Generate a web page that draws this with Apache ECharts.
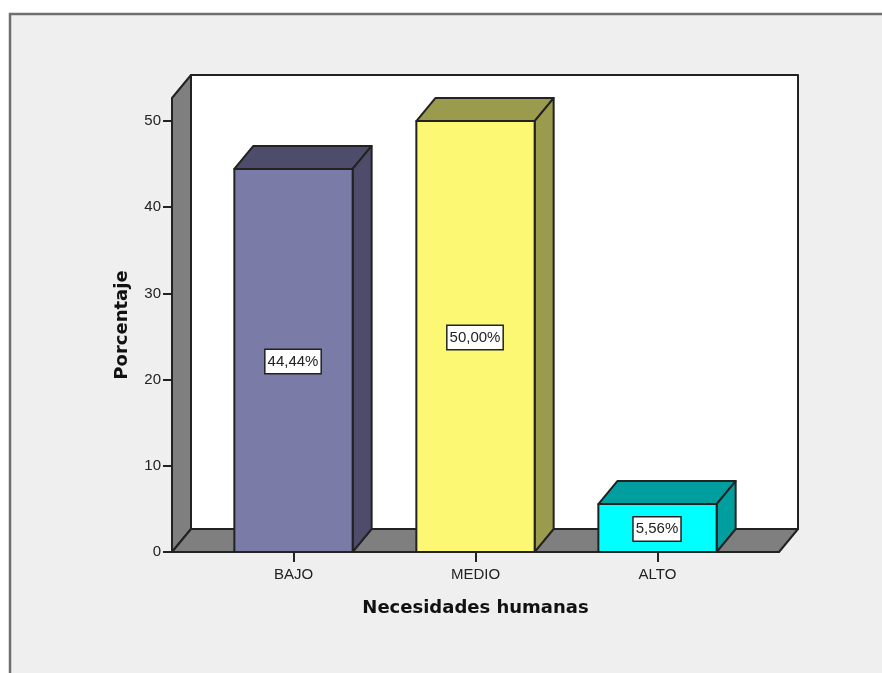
<!DOCTYPE html>
<html>
<head>
<meta charset="utf-8">
<style>html,body{margin:0;padding:0;background:#fff}#chart{width:882px;height:673px}</style>
<script src="https://cdn.jsdelivr.net/npm/echarts@6/dist/echarts.min.js"></script>
</head>
<body>
<div id="chart"></div>
<script>
// Necesidades humanas: percentage per level, drawn as extruded bars in a box.
var categories = ['BAJO', 'MEDIO', 'ALTO'];
var percentages = [44.44, 50.00, 5.56];
var yTicks = [0, 10, 20, 30, 40, 50];
var yTop = 52.67;
var frontColors = ['#7b7ba8', '#fdf873', '#00ffff'];
var sideColors = ['#4d4d6b', '#9b9b4d', '#009e9e'];

var DX = 19, DY = 23;        // extrusion of the box depth, in pixels
var WALL_LEFT = 30.5;        // how far the box extends beyond the category band on each side
var BAR_RATIO = 0.65;
var INK = '#222222', WALL = '#7f7f7f';
var FONT = '"Liberation Sans", Arial, sans-serif';

function poly(points, fill) {
  return {
    type: 'polygon',
    shape: { points: points },
    style: { fill: fill, stroke: INK, lineWidth: 2, lineJoin: 'round' }
  };
}

function renderBox(params, api) {
  var cs = params.coordSys;
  var l = cs.x - WALL_LEFT, r = cs.x + cs.width + WALL_LEFT;
  var t = cs.y, b = cs.y + cs.height;
  return {
    type: 'group',
    children: [
      poly([[l + DX, t - DY], [r + DX, t - DY], [r + DX, b - DY], [l + DX, b - DY]], '#ffffff'),
      poly([[l, b], [l + DX, b - DY], [l + DX, t - DY], [l, t]], WALL),
      poly([[l, b], [l + DX, b - DY], [r + DX, b - DY], [r, b]], WALL)
    ]
  };
}

function renderBar(params, api) {
  var i = params.dataIndex;
  var value = api.value(1);
  var top = api.coord([api.value(0), value]);
  var base = api.coord([api.value(0), 0]);
  var half = api.size([1, 0])[0] * BAR_RATIO / 2;
  var l = top[0] - half, r = top[0] + half, t = top[1], b = base[1];
  return {
    type: 'group',
    children: [
      poly([[l, t], [l + DX, t - DY], [r + DX, t - DY], [r, t]], sideColors[i]),
      poly([[r, t], [r + DX, t - DY], [r + DX, b - DY], [r, b]], sideColors[i]),
      poly([[l, t], [r, t], [r, b], [l, b]], frontColors[i]),
      {
        type: 'text',
        style: {
          text: value.toFixed(2).replace('.', ',') + '%',
          x: top[0] - 0.5, y: api.coord([api.value(0), value / 2])[1] + 1,
          align: 'center', verticalAlign: 'middle',
          font: '15px ' + FONT, fill: INK,
          backgroundColor: '#ffffff', borderColor: INK, borderWidth: 1.5,
          padding: [4, 2, 4, 2]
        }
      }
    ]
  };
}

var chart = echarts.init(document.getElementById('chart'), null, { renderer: 'canvas' });
chart.setOption({
  animation: false,
  backgroundColor: '#ffffff',
  graphic: [{
    type: 'rect', z: -10, silent: true,
    shape: { x: 10, y: 14, width: 900, height: 700 },
    style: { fill: '#efefef', stroke: '#6f6f6f', lineWidth: 2.5 }
  }],
  grid: { left: 202.5, top: 98, width: 546, height: 454 },
  xAxis: {
    type: 'category',
    data: categories,
    name: 'Necesidades humanas',
    nameLocation: 'middle',
    nameGap: 47,
    nameTextStyle: { fontFamily: '"DejaVu Sans"', fontWeight: 'bold', fontSize: 18, color: '#111' },
    axisLine: { show: false },
    axisTick: { show: true, alignWithLabel: true, length: 10, lineStyle: { color: INK, width: 2 } },
    axisLabel: { margin: 15, fontFamily: FONT, fontSize: 15, color: INK }
  },
  yAxis: {
    type: 'value',
    min: 0,
    max: yTop,
    offset: WALL_LEFT,
    name: 'Porcentaje',
    nameLocation: 'middle',
    nameGap: 41,
    nameTextStyle: { fontFamily: '"DejaVu Sans"', fontWeight: 'bold', fontSize: 18, color: '#111' },
    splitLine: { show: false },
    axisLine: { show: false },
    axisTick: { show: true, length: 9, customValues: yTicks, lineStyle: { color: INK, width: 2 } },
    axisLabel: { margin: 11, padding: [2, 0, 0, 0], fontFamily: FONT, fontSize: 15, color: INK, customValues: yTicks }
  },
  series: [
    { type: 'custom', silent: true, z: 1, renderItem: renderBox, data: [[0, 0]], clip: false },
    {
      type: 'custom', silent: true, z: 2, renderItem: renderBar, clip: false,
      encode: { x: 0, y: 1 },
      data: percentages.map(function (v, i) { return [i, v]; })
    }
  ]
});
</script>
</body>
</html>
